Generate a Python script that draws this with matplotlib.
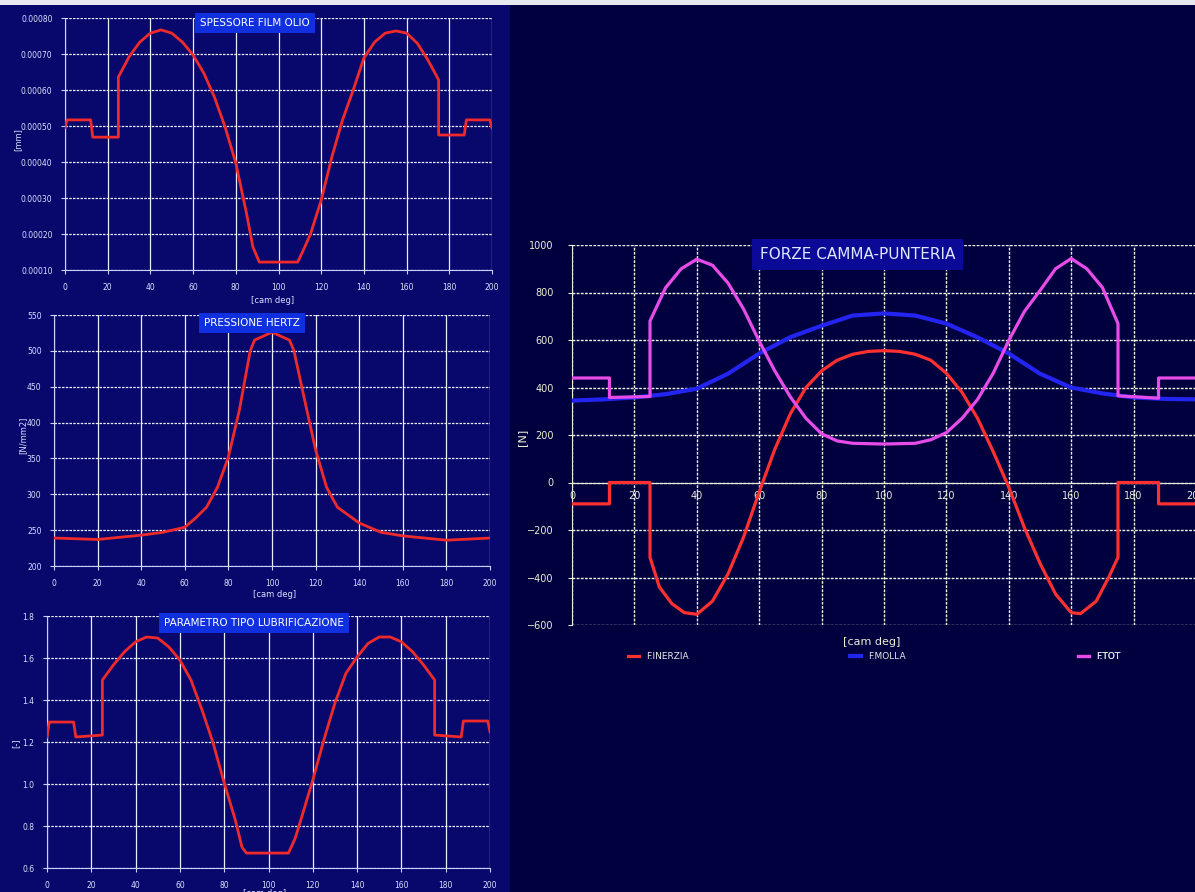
import matplotlib
matplotlib.use('Agg')
import matplotlib.pyplot as plt
from matplotlib.patches import Rectangle

# --- data ---
# oil film thickness [mm]
film_x = [0, 1, 12, 13, 25, 25, 30, 35, 40, 45, 50, 55, 60, 65, 70, 75, 80, 85, 88, 91,
          109, 112, 115, 120, 125, 130, 135, 140, 145, 150, 155, 160, 165, 170, 175, 175,
          187, 188, 199, 200]
film_y = [0.000497, 0.000517, 0.000517, 0.000469, 0.000469, 0.000636, 0.000692, 0.000733,
          0.000758, 0.000767, 0.000758, 0.000733, 0.000697, 0.000647, 0.000580, 0.000497,
          0.000397, 0.000258, 0.000164, 0.000122, 0.000122, 0.000160, 0.000200, 0.000294,
          0.000414, 0.000517, 0.000600, 0.000689, 0.000733, 0.000758, 0.000764, 0.000758,
          0.000730, 0.000683, 0.000628, 0.000475, 0.000475, 0.000517, 0.000517, 0.000494]

# Hertz pressure [N/mm2]
hertz_x = [0, 20, 40, 50, 60, 65, 70, 75, 80, 85, 90, 92, 100, 108, 110, 115, 120, 125,
           130, 140, 150, 160, 180, 200]
hertz_y = [239, 237, 243, 247, 254, 267, 282, 310, 352, 417, 500, 515, 526, 515, 501, 431,
           362, 310, 282, 260, 247, 242, 236, 239]

# lubrication parameter [-]
lam_x = [0, 1, 12, 13, 25, 25, 30, 35, 40, 45, 50, 55, 60, 65, 70, 75, 80, 85, 88, 90,
         109, 112, 115, 120, 125, 130, 135, 140, 145, 150, 155, 160, 165, 170, 175, 175,
         187, 188, 199, 200]
lam_y = [1.224, 1.295, 1.295, 1.224, 1.233, 1.495, 1.567, 1.630, 1.677, 1.700, 1.695, 1.653,
         1.590, 1.495, 1.352, 1.195, 1.005, 0.829, 0.700, 0.671, 0.671, 0.740, 0.843, 1.019,
         1.210, 1.386, 1.528, 1.605, 1.670, 1.700, 1.700, 1.677, 1.630, 1.567, 1.495, 1.233,
         1.224, 1.300, 1.300, 1.248]

# cam-tappet forces [N]
inerzia_x = [0, 12, 12, 25, 25, 28, 32, 36, 40, 45, 50, 55, 60, 65, 70, 75, 80, 85, 90,
             95, 100, 105, 110, 115, 120, 125, 130, 135, 140, 145, 150, 155, 160, 163,
             168, 172, 175, 175, 188, 188, 200]
inerzia_y = [-90, -90, 0, 0, -315, -440, -510, -548, -555, -500, -385, -230, -40, 140, 290,
             400, 470, 515, 540, 552, 555, 552, 540, 515, 460, 380, 270, 130, -20, -190,
             -340, -470, -548, -552, -500, -400, -315, 0, 0, -90, -90]

molla_x = [0, 10, 20, 30, 40, 50, 60, 70, 80, 90, 100, 110, 120, 130, 140, 150, 160, 170,
           180, 190, 200]
molla_y = [345, 350, 358, 372, 395, 458, 543, 612, 660, 703, 712, 703, 669, 611, 543, 458,
           400, 375, 358, 352, 350]

tot_x = [0, 12, 12, 25, 25, 30, 35, 40, 45, 50, 55, 60, 65, 70, 75, 80, 85, 90, 100, 110,
         115, 120, 125, 130, 135, 140, 145, 150, 155, 160, 165, 170, 175, 175, 188, 188, 200]
tot_y = [440, 440, 358, 362, 680, 820, 900, 940, 915, 840, 730, 595, 470, 360, 270, 205,
         175, 165, 162, 165, 180, 210, 270, 350, 460, 598, 720, 808, 900, 943, 900, 821,
         669, 365, 355, 440, 440]

cam_ticks = list(range(0, 201, 20))

W, H = 1195, 892
fig = plt.figure(figsize=(W / 100, H / 100), dpi=100)
fig.patch.set_facecolor('#00003f')
fig.patches.append(Rectangle((0, 0), 510 / W, 1 - 5 / H, transform=fig.transFigure,
                             facecolor='#08086c', edgecolor='none', zorder=-2))
fig.patches.append(Rectangle((0, 1 - 5 / H), 1, 5 / H, transform=fig.transFigure,
                             facecolor='#e8e8f0', edgecolor='none', zorder=-2))

txt = '#d8e0ff'
red = '#ee2a2a'


def small_chart(rect, x, y, ylim, yticks, yfmt, title, tpos, ylabel, ylab_pos, xlab_pos):
    ax = fig.add_axes(rect)
    ax.set_facecolor('none')
    ax.plot(x, y, color=red, lw=2, zorder=3)
    ax.set_xlim(0, 200)
    ax.set_ylim(*ylim)
    ax.set_xticks(cam_ticks)
    ax.set_yticks(yticks)
    ax.set_yticklabels([yfmt.format(v) for v in yticks])
    ax.grid(axis='x', color='#e8ecff', lw=0.9, ls='-')
    ax.grid(axis='y', color='#e8ecff', lw=0.9, ls=(0, (2, 1)))
    for s in ['top', 'right']:
        ax.spines[s].set_visible(False)
    for s in ['left', 'bottom']:
        ax.spines[s].set_color('#c8d0ff')
    ax.tick_params(colors='#c8d0ff', labelcolor=txt, labelsize=5.5, length=3, pad=6)
    ax.set_xlabel('[cam deg]', color=txt, fontsize=6)
    ax.xaxis.set_label_coords(*xlab_pos)
    ax.set_ylabel(ylabel, color=txt, fontsize=6)
    ax.yaxis.set_label_coords(*ylab_pos)
    ax.text(tpos[0], tpos[1], title, transform=ax.transAxes, ha='center', va='center',
            color='white', fontsize=7.5, zorder=5,
            bbox=dict(boxstyle='square,pad=0.45', facecolor='#1030e0', edgecolor='none'))
    return ax


small_chart([65 / W, 1 - 270 / H, 427 / W, 252 / H], film_x, film_y,
            (0.0001, 0.0008), [0.0001 * k for k in range(1, 9)], '{:.5f}',
            'SPESSORE FILM OLIO', (0.445, 0.98), '[mm]', (-0.1, 0.516), (0.487, -0.103))
small_chart([54 / W, 1 - 566 / H, 436 / W, 251 / H], hertz_x, hertz_y,
            (200, 550), list(range(200, 551, 50)), '{:d}',
            'PRESSIONE HERTZ', (0.454, 0.968), '[N/mm2]', (-0.06, 0.52), (0.507, -0.096))
small_chart([47 / W, 1 - 868 / H, 443 / W, 252 / H], lam_x, lam_y,
            (0.6, 1.8), [0.6, 0.8, 1.0, 1.2, 1.4, 1.6, 1.8], '{:.1f}',
            'PARAMETRO TIPO LUBRIFICAZIONE', (0.467, 0.972), '[-]', (-0.06, 0.496),
            (0.49, -0.083))

# right chart: forces
ax = fig.add_axes([572 / W, 1 - 625 / H, 624 / W, 380 / H])
ax.set_facecolor('none')
l_molla, = ax.plot(molla_x, molla_y, color='#2424f0', lw=3, zorder=3)
l_in, = ax.plot(inerzia_x, inerzia_y, color='#ff3030', lw=2.3, zorder=4)
l_tot, = ax.plot(tot_x, tot_y, color='#e84ce8', lw=2.3, zorder=4)
ax.set_xlim(0, 200)
ax.set_ylim(-600, 1000)
ax.set_xticks(cam_ticks)
ax.set_yticks(list(range(-600, 1001, 200)))
ax.grid(color='#eef0e0', lw=1.0, ls=(0, (2, 1)))
ax.spines['bottom'].set_position(('data', 0))
ax.spines['bottom'].set_color('#e8ecd8')
ax.spines['left'].set_color('#e8ecd8')
for s in ['top', 'right']:
    ax.spines[s].set_visible(False)
ax.tick_params(axis='x', colors='#e8ecd8', labelcolor='#eeeed8', labelsize=7, length=0, pad=6)
ax.tick_params(axis='y', colors='#e8ecd8', labelcolor='#eeeed8', labelsize=7, length=3, pad=10)
ax.set_xlabel('[cam deg]', color='#eeeed8', fontsize=8)
ax.xaxis.set_label_coords(0.48, -0.032)
ax.set_ylabel('[N]', color='#eeeed8', fontsize=8)
ax.yaxis.set_label_coords(-0.072, 0.495)
ax.text(0.458, 0.975, 'FORZE CAMMA-PUNTERIA', transform=ax.transAxes, ha='center',
        va='center', color='#e0e8ff', fontsize=11, zorder=6,
        bbox=dict(boxstyle='square,pad=0.5', facecolor='#0a0a96', edgecolor='none'))

# one legend per entry, spread out below the plot
for line, name, xa in [(l_in, 'F.INERZIA', 0.09), (l_molla, 'F.MOLLA', 0.445),
                       (l_tot, 'F.TOT', 0.811)]:
    leg = ax.legend([line], [name], loc='center left', bbox_to_anchor=(xa, -0.084),
                    frameon=False, fontsize=6.5, handlelength=1.2, labelcolor='#e8e8e8',
                    borderaxespad=0, borderpad=0)
    ax.add_artist(leg)

fig.savefig('out.png', dpi=100, facecolor=fig.get_facecolor())
